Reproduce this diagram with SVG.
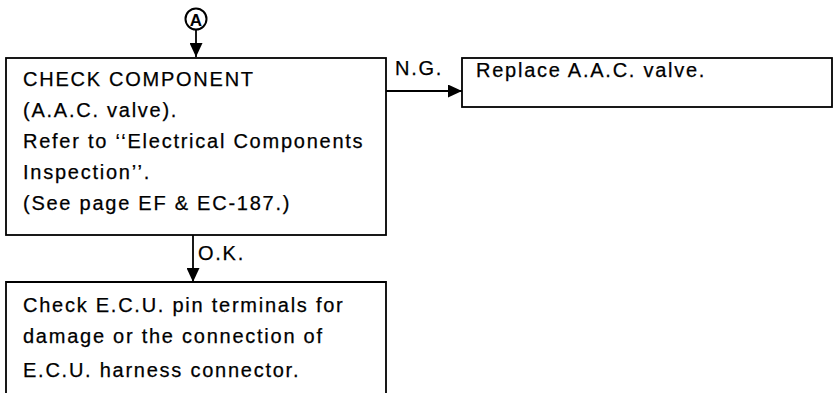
<svg xmlns="http://www.w3.org/2000/svg" width="833" height="393" viewBox="0 0 833 393">
<style>
.box{fill:#fff;stroke:#000;stroke-width:1.8}
.t{font-family:"Liberation Sans",Arial,sans-serif;font-size:20px;letter-spacing:1.75px;fill:#000;stroke:#000;stroke-width:0.25}
.c{stroke:#000;stroke-width:1.8;fill:none}
</style>
<defs>
<marker id="ah" viewBox="0 0 14 13" refX="14" refY="6.5" markerWidth="14" markerHeight="13" markerUnits="userSpaceOnUse" orient="auto">
<path d="M0,0 L14,6.5 L0,13 Z" fill="#000"/>
</marker>
</defs>
<g id="start">
<circle cx="196" cy="19" r="10.5" fill="#fff" stroke="#000" stroke-width="2"/>
<text x="196" y="25.5" text-anchor="middle" font-family="Liberation Sans,Arial,sans-serif" font-size="17" font-weight="bold">A</text>
</g>
<g id="connectors">
<line class="c" x1="196" y1="29.5" x2="196" y2="57" marker-end="url(#ah)"/>
<line class="c" x1="386" y1="91" x2="462" y2="91" marker-end="url(#ah)"/>
<line class="c" x1="193" y1="235" x2="193" y2="282" marker-end="url(#ah)"/>
<text class="t" x="395" y="75">N.G.</text>
<text class="t" x="198" y="260">O.K.</text>
</g>
<g id="check">
<rect class="box" x="6" y="58" width="380" height="177"/>
<text class="t" x="23" y="86">CHECK COMPONENT</text>
<text class="t" x="23" y="117">(A.A.C. valve).</text>
<text class="t" x="23" y="148">Refer to ‘‘Electrical Components</text>
<text class="t" x="23" y="179">Inspection’’.</text>
<text class="t" x="23" y="210">(See page EF &amp; EC-187.)</text>
</g>
<g id="replace">
<rect class="box" x="462" y="58" width="370" height="49"/>
<text class="t" x="476" y="77">Replace A.A.C. valve.</text>
</g>
<g id="ecu">
<path class="box" d="M6,394 L6,282 L386,282 L386,394"/>
<text class="t" x="23" y="312">Check E.C.U. pin terminals for</text>
<text class="t" x="23" y="343">damage or the connection of</text>
<text class="t" x="23" y="377">E.C.U. harness connector.</text>
</g>
</svg>
